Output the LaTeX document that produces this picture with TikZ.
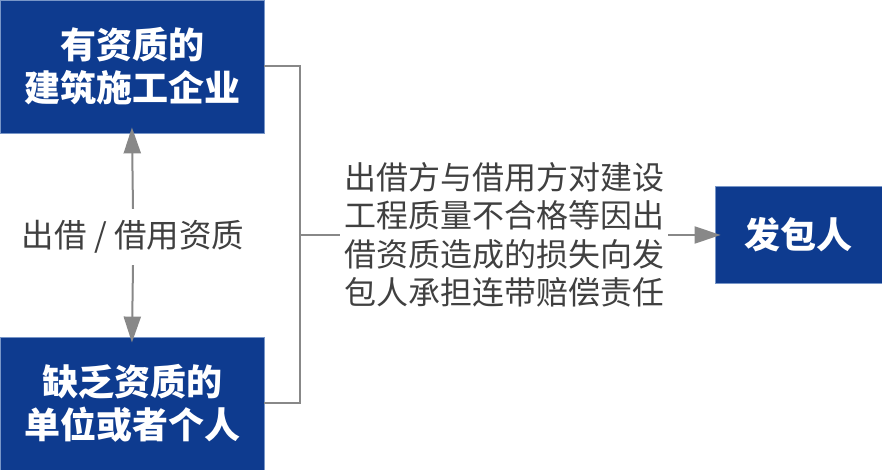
\documentclass[tikz,border=0pt]{standalone}
\usepackage{fontspec}
\setmainfont{Noto Sans CJK SC}
\usepackage{xcolor}
\definecolor{deep-blue}{RGB}{14,59,143}
\definecolor{edge-blue}{RGB}{120,150,200}
\definecolor{line-grey}{RGB}{136,136,136}
\definecolor{text-grey}{RGB}{64,64,64}
\usetikzlibrary{arrows.meta}
\begin{document}
\begin{tikzpicture}[x=1pt,y=1pt,
	party/.style={draw=edge-blue,line width=.8pt,fill=deep-blue,text=white,
		minimum width=264pt,minimum height=133pt,align=center,inner sep=0pt,
		font=\fontsize{36pt}{43pt}\selectfont\bfseries},
	arr/.style={line-grey,line width=2pt,-{Triangle[length=26pt,width=17pt]},
		shorten >=-6pt},
	bracket/.style={line-grey,line width=2pt}]
	\useasboundingbox (0,0) rectangle (882,470);
	
	\node[party] (qual) at (132,403.5) {有资质的\\建筑施工企业};
	\node[party] (noqual) at (132,66.5) {缺乏资质的\\单位或者个人};
	\node[party,minimum width=167pt,minimum height=97pt] (employer)
		at (798.5,235) {发包人};
	
	\node[text=text-grey,inner sep=0pt,minimum height=56pt,
		font=\fontsize{32.5pt}{38pt}\selectfont] (lend) at (133,233) {出借 / 借用资质};
	\node[text=text-grey,inner xsep=4pt,align=left,
		font=\fontsize{32pt}{38.5pt}\selectfont] (duty) at (504,235)
		{出借方与借用方对建设\\工程质量不合格等因出\\借资质造成的损失向发\\包人承担连带赔偿责任};
	\coordinate (joint) at (300,235);
	
	\draw[arr] (lend.north) -- (qual.south);
	\draw[arr] (lend.south) -- (noqual.north);
	\draw[bracket] (qual.east) -| (joint) |- (noqual.east);
	\draw[bracket] (joint) -- (duty.west);
	\draw[arr] (duty.east) -- (employer.west);
\end{tikzpicture}
\end{document}
